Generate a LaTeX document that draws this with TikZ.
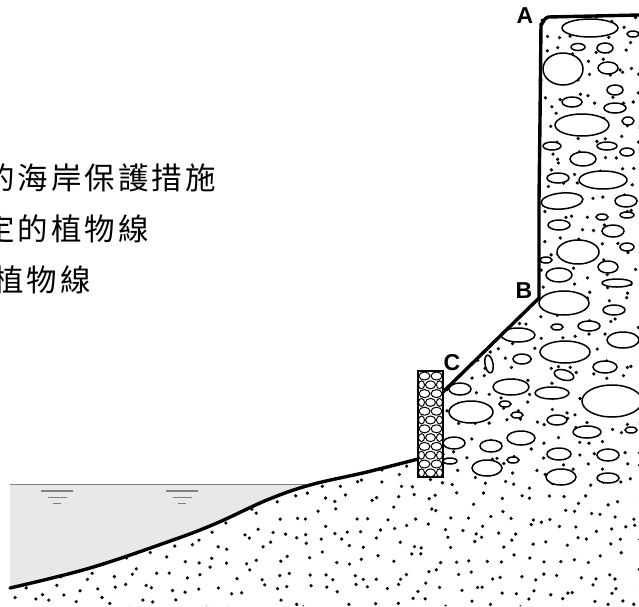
\documentclass[tikz,border=0pt]{standalone}
\usepackage{fontspec}
\newfontfamily\cjk{Noto Sans CJK TC}
\newfontfamily\lab{Liberation Sans}
\newcommand\gp{\kern3pt}
\begin{document}
\begin{tikzpicture}[x=1pt,y=-1pt,
  cliffline/.style={line width=3.4pt,line join=round,line cap=round},
  pebble/.style={draw,fill=white,line width=1.5pt},
  cobble/.style={draw,fill=white,line width=1pt},
  lbl/.style={font=\lab\bfseries\fontsize{23}{23}\selectfont,inner sep=0pt},
  cjktext/.style={font=\cjk\fontsize{30.5}{30.5}\selectfont,anchor=west,inner sep=0pt},
  level/.style={draw=black!50,line width=1.5pt},
  water/.style={fill=black!9}]
\useasboundingbox (0,0) rectangle (639,606);
\clip (0,0) rectangle (639,606);

% texts
\node[cjktext] (t1) at (-16,178) {的\gp 海\gp 岸\gp 保\gp 護\gp 措\gp 施};
\node[cjktext] (t2) at (-16,229) {定\gp 的\gp 植\gp 物\gp 線};
\node[cjktext] (t3) at (-7,280) {植\gp 物\gp 線};

% key points
\coordinate (A) at (540,17);
\coordinate (B) at (539,298);
\coordinate (C) at (443,392);
\coordinate (G) at (418,459);

% water
\begin{scope}
  \clip (10,484) rectangle (420,606);
  \fill[water] plot[smooth,tension=0.6] coordinates {(10,588) (90,568) (173,540) (217,523) (267,500) (310,485) (367,472) (418,459)} -- (418,300) -- (10,300) -- cycle;
  \clip plot[smooth,tension=0.6] coordinates {(10,588) (90,568) (173,540) (217,523) (267,500) (310,485) (367,472) (418,459)} -- (418,300) -- (10,300) -- cycle;
  \draw[level] (10,484) -- (418,484);
\end{scope}
% water symbols
\foreach \c in {57,182}{
  \draw[level] (\c-16,491) -- (\c+16,491);
  \draw[level] (\c-9.5,497.3) -- (\c+9.5,497.3);
  \draw[level] (\c-3.7,503.3) -- (\c+3.7,503.3);
}

% dots in the ground
\begin{scope}
  \clip (10,606) -- plot[smooth,tension=0.6] coordinates {(10,588) (90,568) (173,540) (217,523) (267,500) (310,485) (367,472) (418,459)} -- (C) -- (B) -- (A) -- (639,15) -- (639,606) -- cycle;
  \pgfmathsetseed{4711}
  \foreach \i in {0,...,42}{
    \foreach \j in {0,...,40}{
      \pgfmathsetmacro\px{\i*15+rnd*13}
      \pgfmathsetmacro\py{12+\j*15+rnd*13}
      \fill (\px,\py) circle (1.8pt);
    }
  }
\end{scope}

% pebbles
\foreach \x/\y/\a/\b/\r in {
 590/28/28/9/0, 633/34/6/3/0, 578/47/7/3.5/0, 605/48/8/5/0, 563/69/20/16/0,
 608/68/10/6/0, 615/90/8/5/0, 572/102/10/5/0, 615/108/11/5/0, 582/125/27/11/0,
 628/121/6/4/0, 552/146/9/4/0, 607/146/10/4/0, 583/159/13/7/0, 627/152/7/4/0,
 558/178/11/5/0, 603/180/24/9/0, 562/201/21/8/5, 626/201/11/6/0, 602/217/6/3/0,
 627/215/7/3/0, 559/225/11/5/0, 613/231/11/6/0, 578/252/21/12/0, 627/247/7/4/0,
 546/260/6/3/0, 608/267/10/6/0, 559/275/13/7/0, 617/283/15/4/0, 564/303/25/12/0,
 614/310/11/5/0, 557/327/6/3/0, 589/326/11/5/0, 518/335/17/7/0, 623/340/16/8/0,
 565/352/25/11/0, 489/364/4/9/10, 522/359/9/5/0, 605/367/12/6/0, 564/375/10/5/-15,
 460/389/11/6/0, 511/387/18/8/0, 552/393/17/6/0, 612/401/30/16/0, 471/412/22/11/0,
 505/404/6/3/0, 517/415/6/3/0, 557/420/10/5/0, 587/432/14/6/0, 631/430/6/3/0,
 521/438/14/7/0, 454/443/11/6/0, 491/446/11/6/0, 559/454/12/6/0, 608/455/11/6/0,
 513/460/6/3/0, 450/461/7/3/0, 487/468/15/8/0, 561/477/15/8/0, 608/478/11/5/0}{
  \draw[pebble,rotate around={\r:(\x,\y)}] (\x,\y) ellipse ({\a pt} and {\b pt});
}

% gabion
\fill[white] (418,371) rectangle (443,477);
\foreach \k in {0,...,11}{
  \pgfmathsetmacro\yy{376+\k*8.8}
  \ifodd\k
    \draw[cobble] (421.5,\yy) ellipse (3pt and 4pt);
    \draw[cobble] (430.5,\yy) ellipse (5pt and 4pt);
    \draw[cobble] (439.5,\yy) ellipse (3pt and 4pt);
  \else
    \draw[cobble] (424.5,\yy) ellipse (5.5pt and 4pt);
    \draw[cobble] (436.5,\yy) ellipse (5.5pt and 4pt);
  \fi
}
\draw[line width=2.4pt] (418,371) rectangle (443,477);

% outlines
\draw[cliffline] (639,15) -- (548,17) to[out=180,in=-90] (541,24) -- (540,120) -- (539,200) -- (B) -- (C);
\draw[cliffline] plot[smooth,tension=0.6] coordinates {(10,588) (90,568) (173,540) (217,523) (267,500) (310,485) (367,472) (418,459)};

% labels
\node[lbl] (la) at (525,16) {A};
\node[lbl] (lb) at (524,291) {B};
\node[lbl] (lc) at (452,363) {C};
\end{tikzpicture}
\end{document}
